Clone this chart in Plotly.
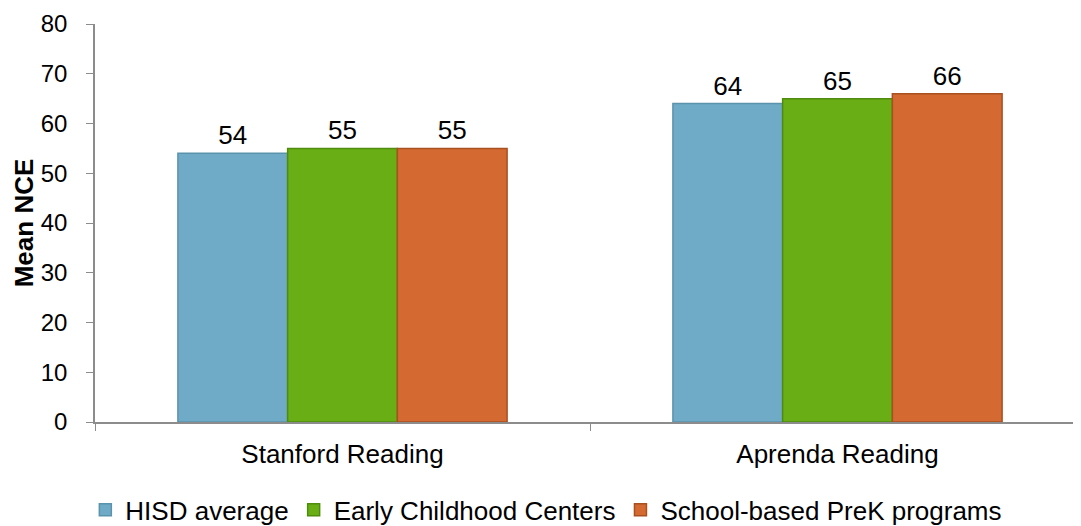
import plotly.graph_objects as go

categories = ["Stanford Reading", "Aprenda Reading"]
series_names = ["HISD average", "Early Childhood Centers", "School-based PreK programs"]
hisd_values = [54, 64]
ecc_values = [55, 65]
school_values = [55, 66]
y_tick_values = [0, 10, 20, 30, 40, 50, 60, 70, 80]

fill_colors = ["#6FABC6", "#69AE15", "#D56932"]
line_colors = ["#5B93AD", "#4F8C0D", "#A8501F"]

FONT = "Liberation Sans, Arial, sans-serif"
FS = 26

fig = go.Figure()
for name, vals, fc, lc in zip(series_names, [hisd_values, ecc_values, school_values], fill_colors, line_colors):
    fig.add_trace(go.Bar(
        name=name,
        x=categories,
        y=vals,
        marker=dict(color=fc, line=dict(color=lc, width=1.5)),
        text=[str(v) for v in vals],
        textposition="outside",
        textfont=dict(family=FONT, size=FS, color="#000000"),
        cliponaxis=False,
    ))

fig.update_layout(
    width=1081,
    height=526,
    barmode="group",
    bargap=0.335,
    bargroupgap=0,
    plot_bgcolor="white",
    paper_bgcolor="white",
    margin=dict(l=87, r=4, t=16, b=112, autoexpand=False),
    font=dict(family=FONT, size=FS, color="#000000"),
    showlegend=True,
    legend=dict(
        orientation="h",
        xref="container",
        yref="container",
        x=0.498,
        xanchor="center",
        y=0.046,
        yanchor="middle",
        font=dict(family=FONT, size=FS, color="#000000"),
        itemwidth=30,
        traceorder="normal",
    ),
    xaxis=dict(
        range=[-0.5, 1.5],
        showline=True,
        linecolor="#8C8C8C",
        linewidth=1.5,
        ticks="outside",
        tickson="boundaries",
        ticklen=7,
        tickcolor="#8C8C8C",
        ticklabelstandoff=8,
        tickfont=dict(family=FONT, size=FS, color="#000000"),
        showgrid=False,
        zeroline=False,
    ),
    yaxis=dict(
        range=[0, 80],
        tickvals=y_tick_values,
        showline=True,
        linecolor="#8C8C8C",
        linewidth=1.5,
        ticks="outside",
        ticklen=7,
        tickcolor="#8C8C8C",
        ticklabelstandoff=14,
        ticklabeloverflow="allow",
        tickfont=dict(family=FONT, size=24, color="#000000"),
        showgrid=False,
        zeroline=False,
        title=dict(text="<b>Mean NCE</b>", font=dict(family=FONT, size=FS, color="#000000"), standoff=0),
    ),
)

fig.write_html("out.html")
